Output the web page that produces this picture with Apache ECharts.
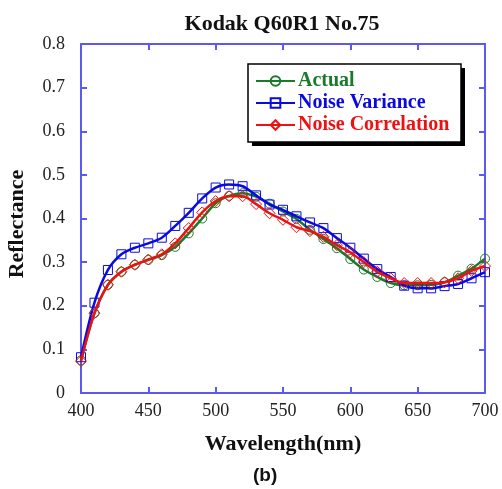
<!DOCTYPE html>
<html>
<head>
<meta charset="utf-8">
<script src="https://cdn.jsdelivr.net/npm/echarts@6/dist/echarts.min.js"></script>
<style>html,body{margin:0;padding:0;background:#fff}#c{width:502px;height:489px}</style>
</head>
<body>
<div id="c"></div>
<script>
const wavelengths = [400,410,420,430,440,450,460,470,480,490,500,510,520,530,540,550,560,570,580,590,600,610,620,630,640,650,660,670,680,690,700];
const actual = [0.075,0.183,0.248,0.278,0.294,0.305,0.316,0.335,0.366,0.400,0.435,0.452,0.458,0.450,0.434,0.416,0.399,0.374,0.353,0.332,0.307,0.283,0.266,0.252,0.247,0.247,0.248,0.254,0.269,0.285,0.308];
const noiseVariance = [0.082,0.207,0.282,0.318,0.333,0.343,0.356,0.383,0.413,0.446,0.471,0.478,0.474,0.453,0.432,0.420,0.405,0.391,0.378,0.355,0.333,0.308,0.284,0.266,0.246,0.240,0.240,0.245,0.250,0.263,0.277];
const noiseCorrelation = [0.073,0.183,0.248,0.278,0.294,0.306,0.318,0.343,0.378,0.414,0.440,0.451,0.451,0.433,0.412,0.397,0.380,0.371,0.358,0.339,0.322,0.300,0.278,0.263,0.252,0.252,0.252,0.254,0.263,0.280,0.291];
const seriesNames = ['Actual','Noise Variance','Noise Correlation'];
const seriesColors = ['#1a7a2a','#0a0ae0','#ee1111'];
const seriesSymbols = ['circle','rect','diamond'];
const seriesData = [actual, noiseVariance, noiseCorrelation];

const axisColor = '#5a5af0';
const serif = '"Liberation Serif", "DejaVu Serif", serif';

const chart = echarts.init(document.getElementById('c'), null, {renderer:'canvas'});

const series = seriesData.map((arr, i) => ({
  name: seriesNames[i],
  type: 'line',
  smooth: 0.3,
  data: wavelengths.map((w, j) => [w, arr[j]]),
  symbol: seriesSymbols[i],
  symbolSize: seriesSymbols[i] === 'diamond' ? 11 : 9,
  lineStyle: {color: seriesColors[i], width: 2.5},
  itemStyle: {color: 'rgba(255,255,255,0)', borderColor: seriesColors[i], borderWidth: 1},
  emphasis: {disabled: true},
  z: 2 + i
}));

const tickStyle = {show: true, inside: true, length: 6, lineStyle: {color: axisColor, width: 2}};
const lineStyle = {show: true, onZero: false, lineStyle: {color: axisColor, width: 2}};

chart.setOption({
  animation: false,
  backgroundColor: '#fff',
  title: {
    text: 'Kodak Q60R1 No.75',
    left: 277, top: 8, textAlign: 'center',
    textStyle: {fontFamily: serif, fontWeight: 'bold', fontSize: 22, color: '#111'}
  },
  grid: {left: 81, right: 17, top: 44, bottom: 96},
  legend: {
    orient: 'vertical',
    left: 255, top: 71,
    padding: 0,
    itemWidth: 39, itemHeight: 12, itemGap: 2,
    data: seriesNames.map((n, i) => ({name: n, textStyle: {color: seriesColors[i]}})),
    textStyle: {fontFamily: serif, fontWeight: 'bold', fontSize: 20, padding: [0,0,0,-2]},
    z: 10
  },
  xAxis: [{
    type: 'value', min: 400, max: 700, interval: 50,
    position: 'bottom',
    axisLine: lineStyle, axisTick: tickStyle,
    splitLine: {show: false},
    axisLabel: {fontFamily: serif, fontSize: 18, color: '#222', margin: 9},
    name: 'Wavelength(nm)', nameLocation: 'middle', nameGap: 40,
    nameTextStyle: {fontFamily: serif, fontWeight: 'bold', fontSize: 22, color: '#111'}
  }, {
    type: 'value', min: 400, max: 700, interval: 50,
    position: 'top',
    axisLine: lineStyle, axisTick: tickStyle,
    splitLine: {show: false}, axisLabel: {show: false}
  }],
  yAxis: [{
    type: 'value', min: 0, max: 0.8, interval: 0.1,
    position: 'left',
    axisLine: lineStyle, axisTick: tickStyle,
    splitLine: {show: false},
    axisLabel: {fontFamily: serif, fontSize: 18, color: '#222', margin: 16,
      formatter: v => (Math.round(v * 10) / 10).toString()}
  }, {
    type: 'value', min: 0, max: 0.8, interval: 0.1,
    position: 'right',
    axisLine: lineStyle, axisTick: tickStyle,
    splitLine: {show: false}, axisLabel: {show: false}
  }],
  graphic: [{
    type: 'rect', z: 8, shape: {x: 252, y: 68, width: 213, height: 78},
    style: {fill: '#000'}
  }, {
    type: 'rect', z: 9, shape: {x: 248, y: 64, width: 213, height: 78},
    style: {fill: '#fff', stroke: '#000', lineWidth: 1.5}
  }, {
    type: 'text', x: 17, y: 224, rotation: Math.PI / 2,
    style: {text: 'Reflectance', font: 'bold 22px "Liberation Serif", serif', fill: '#111',
      align: 'center', verticalAlign: 'middle'}
  }, {
    type: 'text', left: 253, top: 466,
    style: {text: '(b)', font: 'bold 19px "Liberation Sans", Arial, sans-serif', fill: '#111'}
  }],
  series: series
});
</script>
</body>
</html>
